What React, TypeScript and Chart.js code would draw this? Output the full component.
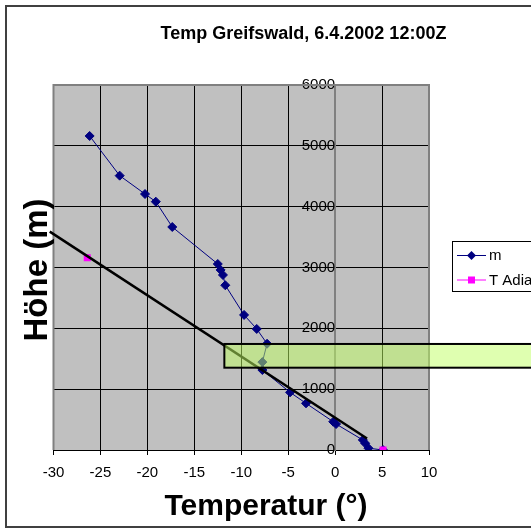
import React, { useEffect, useRef } from 'react';
import { Chart, registerables } from 'chart.js';

Chart.register(...registerables);

const FONT = '"Liberation Sans", Arial, sans-serif';

// Measured sounding "m": temperature (°C) and height (m)
const mTemp = [5.1, 3.55, 3.2, 2.95, 0.1, -0.2, -3.1, -4.8, -7.75, -7.75, -7.25, -8.35, -9.7, -11.7, -11.95, -12.2, -12.5, -17.35, -19.1, -20.25, -22.95, -26.15];
const mHeight = [0, 30, 110, 165, 427, 465, 767, 948, 1315, 1445, 1747, 1990, 2220, 2708, 2877, 2960, 3058, 3666, 4082, 4208, 4510, 5162];

// "T Adiabat" points
const adiaTemp = [5.1, -26.4];
const adiaHeight = [0, 3160];

// black guide line
const guideTemp = [-30.4, 3.4];
const guideHeight = [3590, 190];

// green band (left edge, heights); extends past the right edge of the picture
const bandTemp = [-11.8, 40];
const bandHeight = [1353, 1743];

const seriesNames = ['m', 'T Adiabate'];
const xRange = [-30, 10, 5];
const yRange = [0, 6000, 1000];
const titleText = 'Temp Greifswald, 6.4.2002 12:00Z';
const xTitle = 'Temperatur (°)';
const yTitle = 'Höhe (m)';

const decor = {
  id: 'decor',
  beforeDraw(chart: any) {
    const { ctx, chartArea: a } = chart;
    ctx.save();
    ctx.fillStyle = '#ffffff';
    ctx.fillRect(0, 0, chart.width, chart.height);
    ctx.fillStyle = '#c0c0c0';
    ctx.fillRect(a.left, a.top, a.right - a.left, a.bottom - a.top);
    ctx.strokeStyle = '#404040';
    ctx.lineWidth = 2;
    ctx.strokeRect(6, 6, chart.width + 60, 521);
    ctx.restore();
  },
  beforeDatasetsDraw(chart: any) {
    const { ctx, chartArea: a } = chart;
    ctx.save();
    ctx.strokeStyle = '#808080';
    ctx.lineWidth = 2;
    ctx.beginPath();
    ctx.moveTo(a.left, a.bottom);
    ctx.lineTo(a.left, a.top);
    ctx.lineTo(a.right, a.top);
    ctx.lineTo(a.right, a.bottom);
    ctx.stroke();
    ctx.restore();
  },
  afterDatasetsDraw(chart: any) {
    const { ctx, scales } = chart;
    const x0 = scales.x.getPixelForValue(bandTemp[0]);
    const x1 = scales.x.getPixelForValue(bandTemp[1]);
    const yTop = scales.y.getPixelForValue(bandHeight[1]);
    const yBot = scales.y.getPixelForValue(bandHeight[0]);
    ctx.save();
    ctx.fillStyle = 'rgba(192,255,98,0.5)';
    ctx.fillRect(x0, yTop, x1 - x0, yBot - yTop);
    ctx.strokeStyle = '#000000';
    ctx.lineWidth = 2;
    ctx.strokeRect(x0, yTop, x1 - x0, yBot - yTop);
    ctx.restore();
  },
  afterDraw(chart: any) {
    const { ctx } = chart;
    ctx.save();
    ctx.fillStyle = '#000';
    ctx.textAlign = 'center';
    ctx.textBaseline = 'alphabetic';
    ctx.font = `bold 18px ${FONT}`;
    ctx.fillText(titleText, 303.5, 39);
    ctx.font = `bold 30px ${FONT}`;
    ctx.fillText(xTitle, 266, 515);
    ctx.save();
    ctx.translate(46.5, 270);
    ctx.rotate(-Math.PI / 2);
    ctx.font = `bold 33px ${FONT}`;
    ctx.fillText(yTitle, 0, 0);
    ctx.restore();

    // legend
    ctx.fillStyle = '#fff';
    ctx.fillRect(452.5, 241.5, 200, 50);
    ctx.strokeStyle = '#000';
    ctx.lineWidth = 1;
    ctx.strokeRect(452.5, 241.5, 200, 50);
    const rows = [255.5, 280];
    chart.data.datasets.slice(0, 2).forEach((ds: any, i: number) => {
      const y = rows[i];
      ctx.strokeStyle = ds.borderColor;
      ctx.lineWidth = 1;
      ctx.beginPath();
      ctx.moveTo(457, y);
      ctx.lineTo(486, y);
      ctx.stroke();
      ctx.fillStyle = ds.backgroundColor;
      ctx.beginPath();
      if (ds.pointStyle === 'rectRot') {
        ctx.moveTo(471.5 - 4.5, y);
        ctx.lineTo(471.5, y - 4.5);
        ctx.lineTo(471.5 + 4.5, y);
        ctx.lineTo(471.5, y + 4.5);
        ctx.closePath();
      } else {
        ctx.rect(468, y - 3.5, 7, 7);
      }
      ctx.fill();
      ctx.fillStyle = '#000';
      ctx.textAlign = 'left';
      ctx.textBaseline = 'middle';
      ctx.font = `15px ${FONT}`;
      ctx.fillText(seriesNames[i], 489, y + 0.5);
    });
    ctx.restore();
  },
};

export default function App() {
  const ref = useRef<HTMLCanvasElement | null>(null);
  useEffect(() => {
    if (!ref.current) return;
    const chart = new Chart(ref.current, {
      type: 'scatter',
      data: {
        datasets: [
          {
            label: seriesNames[0],
            data: mTemp.map((t, i) => ({ x: t, y: mHeight[i] })),
            borderColor: '#000080',
            backgroundColor: '#000080',
            borderWidth: 1,
            pointStyle: 'rectRot',
            pointRadius: 4.5,
            pointBorderWidth: 1,
            showLine: true,
            order: 3,
          } as any,
          {
            label: seriesNames[1],
            data: adiaTemp.map((t, i) => ({ x: t, y: adiaHeight[i] })),
            borderColor: '#ff00ff',
            backgroundColor: '#ff00ff',
            pointStyle: 'rect',
            pointRadius: 5,
            pointBorderWidth: 0,
            showLine: false,
            order: 2,
          } as any,
          {
            label: 'guide',
            data: guideTemp.map((t, i) => ({ x: t, y: guideHeight[i] })),
            borderColor: '#000000',
            backgroundColor: '#000000',
            borderWidth: 2.5,
            pointRadius: 0,
            showLine: true,
            clip: false,
            order: 1,
          } as any,
        ],
      },
      options: {
        animation: false,
        responsive: false,
        events: [],
        layout: { padding: { left: 53.5, right: 102, top: 85, bottom: 38 } },
        plugins: { legend: { display: false }, tooltip: { enabled: false }, title: { display: false } },
        scales: {
          x: {
            type: 'linear',
            min: xRange[0],
            max: xRange[1],
            ticks: { stepSize: xRange[2], color: '#000', font: { family: FONT, size: 15 }, padding: 8.5 },
            grid: {
              color: (c: any) => (c.tick && c.tick.value === 0 ? 'rgba(0,0,0,0)' : '#000'),
              tickColor: '#000',
              tickLength: 5,
              lineWidth: 1,
            },
            border: { color: '#000', width: 1 },
          },
          y: {
            type: 'linear',
            position: { x: 0 } as any,
            min: yRange[0],
            max: yRange[1],
            ticks: {
              stepSize: yRange[2],
              color: '#000',
              font: { family: FONT, size: 15 },
              padding: 0,
              callback: (v: any) => String(v),
            },
            grid: { color: '#000', drawTicks: false, lineWidth: 1 },
            border: { color: '#808080', width: 2 },
          },
        },
      } as any,
      plugins: [decor],
    });
    return () => chart.destroy();
  }, []);
  return (
    <div style={{ position: 'absolute', left: 0, top: 0, width: 531, height: 528 }}>
      <canvas ref={ref} width={531} height={528} style={{ display: 'block' }} />
    </div>
  );
}
